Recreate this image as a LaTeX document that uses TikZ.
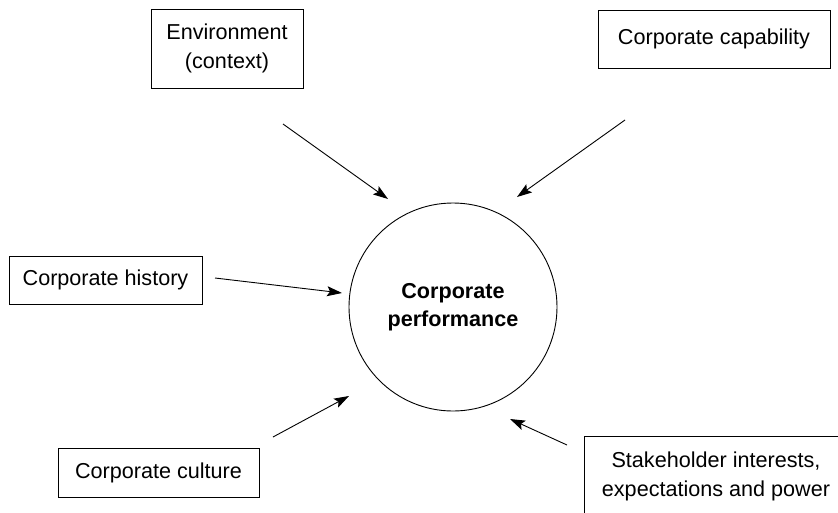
\documentclass[tikz,border=0pt]{standalone}
\usepackage{fontspec}
\setmainfont{Liberation Sans}
\usetikzlibrary{arrows.meta}

\tikzset{
  factor/.style={draw, line width=0.9pt, align=center, inner sep=0pt,
    font=\fontsize{21.6}{29}\selectfont},
  influence/.style={-{Stealth[length=15pt, width=10pt, inset=3pt]}, line width=0.9pt}
}

\begin{document}
\begin{tikzpicture}[x=1pt, y=-1pt]

  % Page frame
  \useasboundingbox (0, 0) rectangle (838, 512);

  % Central circle
  \node[draw, circle, line width=0.9pt, minimum size=208pt, align=center,
    font=\fontsize{21.6}{28}\selectfont\bfseries] (perf) at (453, 307)
    {Corporate\\performance};

  % Surrounding factors
  \node[factor, minimum width=152pt, minimum height=79pt] (env) at (227, 48.5)
    {Environment\\(context)};
  \node[factor, minimum width=232pt, minimum height=58pt] (capab) at (714, 39)
    {Corporate capability};
  \node[factor, minimum width=193pt, minimum height=48pt] (hist) at (105.5, 280)
    {Corporate history};
  \node[factor, minimum width=201pt, minimum height=49pt] (cult) at (158.5, 472.5)
    {Corporate culture};
  \node[factor, minimum width=264pt, minimum height=80pt] (stake) at (716, 476)
    {Stakeholder interests,\\expectations and power};

  % Free arrow ends
  \coordinate (envA) at (283, 124);
  \coordinate (envB) at (388, 199);
  \coordinate (capabA) at (625, 120);
  \coordinate (capabB) at (517, 197);
  \coordinate (histA) at (215, 278);
  \coordinate (histB) at (342, 293);
  \coordinate (cultA) at (273, 437);
  \coordinate (cultB) at (349, 396);
  \coordinate (stakeA) at (567, 445);
  \coordinate (stakeB) at (510, 419);

  % Influence arrows
  \draw[influence] (envA) -- (envB);
  \draw[influence] (capabA) -- (capabB);
  \draw[influence] (histA) -- (histB);
  \draw[influence] (cultA) -- (cultB);
  \draw[influence] (stakeA) -- (stakeB);

\end{tikzpicture}
\end{document}
